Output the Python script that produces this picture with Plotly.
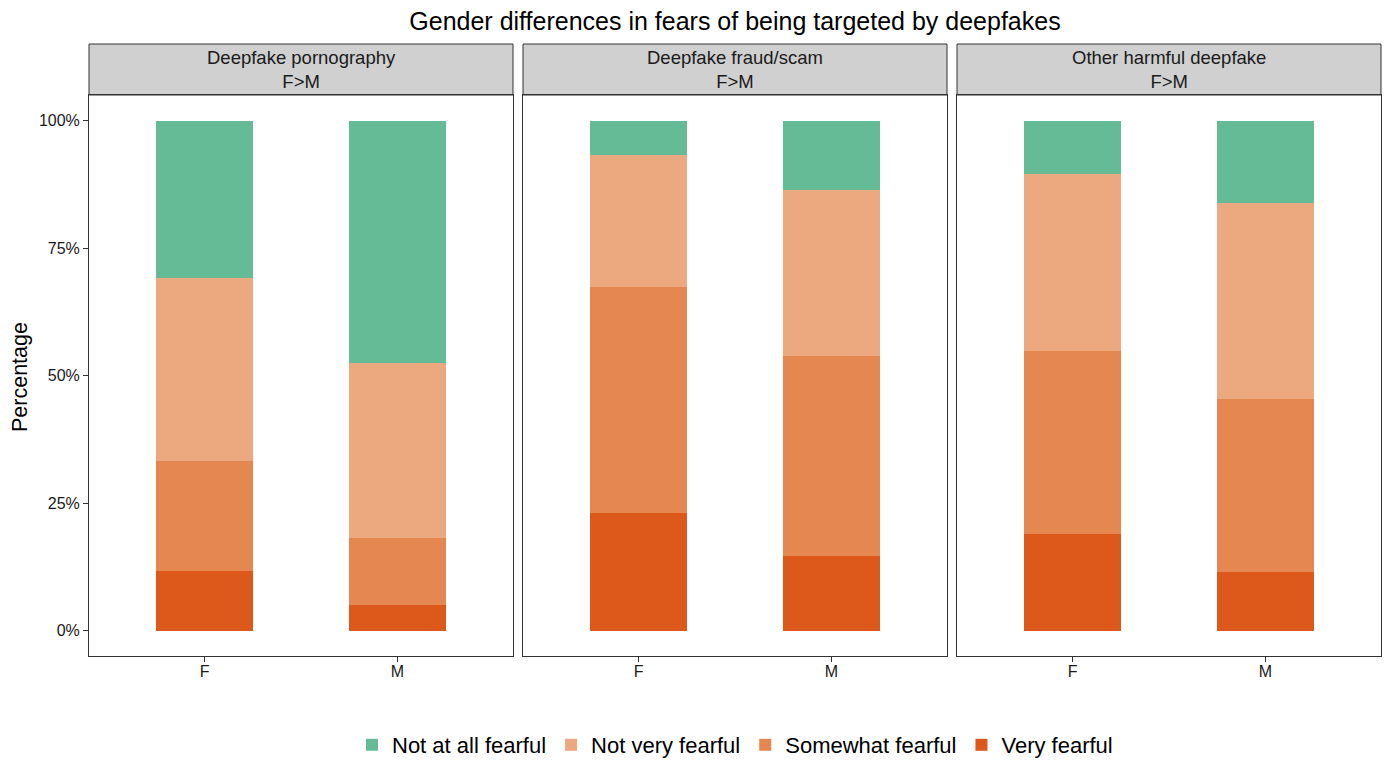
import plotly.graph_objects as go

panels = ["Deepfake pornography<br>F>M", "Deepfake fraud/scam<br>F>M", "Other harmful deepfake<br>F>M"]
genders = ["F", "M"]
levels = ["Very fearful", "Somewhat fearful", "Not very fearful", "Not at all fearful"]
colors = {"Very fearful": "#DC581B", "Somewhat fearful": "#E58751",
          "Not very fearful": "#ECA87E", "Not at all fearful": "#64BB95"}

# percentages per panel: [F, M]
very_fearful = [[11.6, 5.0], [23.1, 14.7], [19.0, 11.4]]
somewhat_fearful = [[21.7, 13.2], [44.2, 39.2], [35.8, 34.0]]
not_very_fearful = [[35.8, 34.3], [26.0, 32.5], [34.8, 38.4]]
not_at_all_fearful = [[30.9, 47.5], [6.7, 13.6], [10.4, 16.2]]
values = {"Very fearful": very_fearful, "Somewhat fearful": somewhat_fearful,
          "Not very fearful": not_very_fearful, "Not at all fearful": not_at_all_fearful}

W, H = 1391, 760
ml, mr, mt, mb = 89, 10, 95, 104
pw = W - ml - mr
ph = H - mt - mb
gap = 10
panel_w = (pw - 2 * gap) / 3

fig = go.Figure()
FONT = "Liberation Sans, Arial, sans-serif"
layout = {}
for i, p in enumerate(panels):
    suffix = "" if i == 0 else str(i + 1)
    x0 = i * (panel_w + gap) / pw
    x1 = (i * (panel_w + gap) + panel_w) / pw
    for lv in levels:
        fig.add_trace(go.Bar(
            x=genders, y=values[lv][i], name=lv,
            marker=dict(color=colors[lv], line=dict(width=0)),
            width=0.5, showlegend=(i == 0), legendgroup=lv,
            xaxis="x" + suffix, yaxis="y" + suffix,
        ))
    layout["xaxis" + suffix] = dict(
        domain=[x0, x1], anchor="y" + suffix, type="category", automargin=False,
        range=[-0.6, 1.6], showline=True, mirror=True, linecolor="#333333", linewidth=1,
        ticks="outside", ticklen=5, tickcolor="#333333", showgrid=False, zeroline=False,
        ticklabelstandoff=-4,
        tickfont=dict(size=16, color="#1a1a1a", family=FONT),
    )
    layout["yaxis" + suffix] = dict(
        domain=[0, 1], anchor="x" + suffix, range=[-5, 105], automargin=False,
        tickvals=[0, 25, 50, 75, 100], ticktext=["0%", "25%", "50%", "75%", "100%"],
        showticklabels=(i == 0), ticks="outside" if i == 0 else "", ticklen=5, tickcolor="#333333",
        showline=True, mirror=True, linecolor="#333333", linewidth=1,
        showgrid=False, zeroline=False,
        tickfont=dict(size=16, color="#1a1a1a", family=FONT),
    )
    sy1 = 1 + 51 / ph
    fig.add_shape(type="rect", xref="paper", yref="paper", x0=x0, x1=x1, y0=1, y1=sy1,
                  fillcolor="#D0D0D0", line=dict(color="#333333", width=1), layer="below")
    fig.add_annotation(xref="paper", yref="paper", x=(x0 + x1) / 2, y=(1 + sy1) / 2,
                       text=p, showarrow=False, yanchor="middle", xanchor="center",
                       font=dict(size=18.5, color="#1a1a1a", family=FONT))

fig.add_annotation(xref="paper", yref="paper", x=(20 - ml) / pw, y=(H - mb - 377) / ph,
                   text="Percentage", textangle=-90, showarrow=False,
                   xanchor="center", yanchor="middle",
                   font=dict(size=21.5, color="black", family=FONT))

fig.update_layout(**layout)
fig.update_layout(
    width=W, height=H, barmode="stack",
    margin=dict(l=ml, r=mr, t=mt, b=mb, autoexpand=False),
    paper_bgcolor="white", plot_bgcolor="white",
    font=dict(family=FONT, color="black"),
    title=dict(text="Gender differences in fears of being targeted by deepfakes",
               x=0.5, xref="paper", y=1 - 21 / H, yanchor="middle",
               font=dict(size=25, color="black", family=FONT)),
    legend=dict(orientation="h", traceorder="reversed", x=0.5, xanchor="center",
                y=-(745 - (H - mb)) / ph, yanchor="middle",
                font=dict(size=22, color="black", family=FONT)),
)

fig.write_html("out.html", config={"displayModeBar": False},
               post_script="document.body.style.margin='0';document.body.style.overflow='hidden';")
